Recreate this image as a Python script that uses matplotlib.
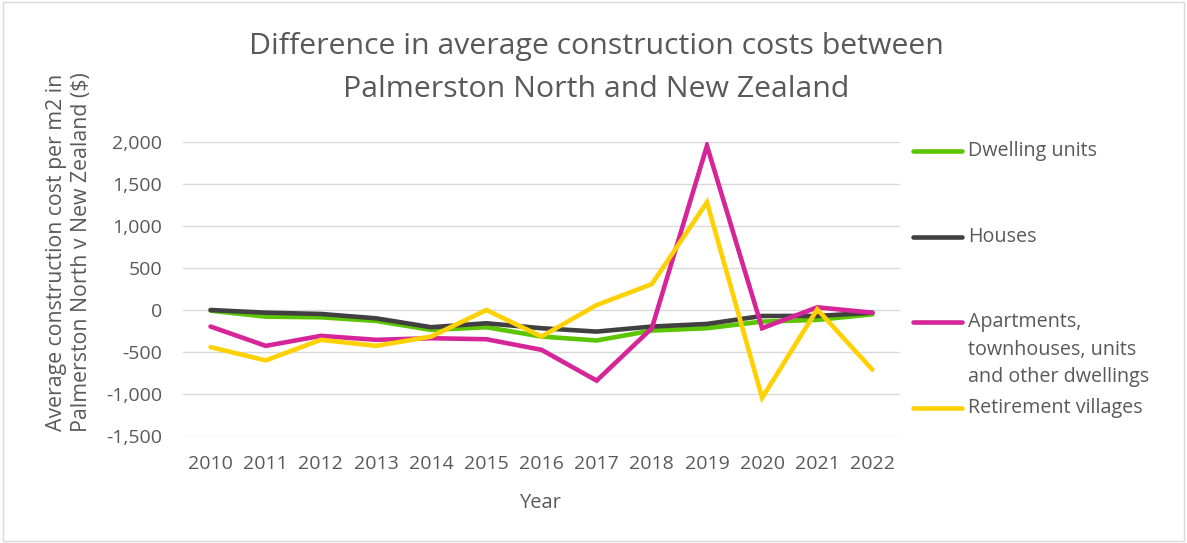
import matplotlib.pyplot as plt
from matplotlib.lines import Line2D
from matplotlib.patches import Rectangle
from matplotlib.ticker import FuncFormatter

plt.rcParams['font.family'] = ['Open Sans', 'DejaVu Sans']

# Data
years = [2010, 2011, 2012, 2013, 2014, 2015, 2016, 2017, 2018, 2019, 2020, 2021, 2022]
dwelling_units = [-8, -79, -87, -130, -237, -205, -316, -363, -245, -217, -138, -118, -51]
houses = [0, -32, -47, -99, -205, -158, -217, -257, -197, -166, -71, -71, -32]
apartments = [-197, -427, -308, -355, -336, -348, -474, -841, -217, 1955, -217, 32, -32]
retirement = [-442, -600, -355, -427, -316, 0, -316, 59, 308, 1283, -1046, 8, -711]

series_names = ['Dwelling units', 'Houses',
                'Apartments,\ntownhouses, units\nand other dwellings',
                'Retirement villages']
series_values = [dwelling_units, houses, apartments, retirement]
colors = ['#5BC500', '#404040', '#D62598', '#FFD100']

W, H = 1187, 543
grey = '#595959'

fig = plt.figure(figsize=(W / 100, H / 100), dpi=100)
ax = fig.add_axes([183 / W, 1 - 436 / H, (900 - 183) / W, (436 - 142) / H])

for vals, c in zip(series_values, colors):
    ax.plot(years, vals, color=c, lw=3.3, solid_capstyle='round', solid_joinstyle='miter')

ax.set_xlim(2009.5, 2022.5)
ax.set_ylim(-1500, 2000)
ax.set_yticks(range(-1500, 2001, 500))
ax.set_xticks(years)
ax.yaxis.set_major_formatter(FuncFormatter(lambda v, p: f'{int(v):,}'))
ax.grid(axis='y', color='#d9d9d9', lw=1)
ax.set_axisbelow(True)
for s in ax.spines.values():
    s.set_visible(False)
ax.tick_params(length=0, labelsize=14, labelcolor=grey)
ax.tick_params(axis='y', pad=15)
ax.tick_params(axis='x', pad=14)

# titles and axis labels
fig.text(596 / W, 1 - 54 / H, 'Difference in average construction costs between',
         ha='center', va='baseline', fontsize=21.8, color=grey)
fig.text(596 / W, 1 - 97 / H, 'Palmerston North and New Zealand',
         ha='center', va='baseline', fontsize=21.8, color=grey)
fig.text(69 / W, 1 - 252 / H,
         'Average construction cost per m2 in\nPalmerston North v New Zealand ($)',
         rotation=90, ha='center', va='center', fontsize=15.3, color=grey,
         linespacing=1.25)
fig.text(540 / W, 1 - 503 / H, 'Year', ha='center', va='center', fontsize=14.5, color=grey)

# legend
legend_y = [151, 237, 322, 408]
for name, c, y in zip(series_names, colors, legend_y):
    fig.add_artist(Line2D([913 / W, 962 / W], [1 - y / H] * 2, color=c, lw=3.3,
                          solid_capstyle='round'))
    for i, line in enumerate(name.split('\n')):
        fig.text(968 / W, 1 - (y + i * 27.5) / H, line, ha='left', va='center',
                 fontsize=14.2, color=grey)

fig.add_artist(Rectangle((3 / W, 2 / H), (W - 6) / W, (H - 4) / H, transform=fig.transFigure,
                         fill=False, edgecolor='#d9d9d9', lw=1))

fig.savefig('out.png', dpi=100)
